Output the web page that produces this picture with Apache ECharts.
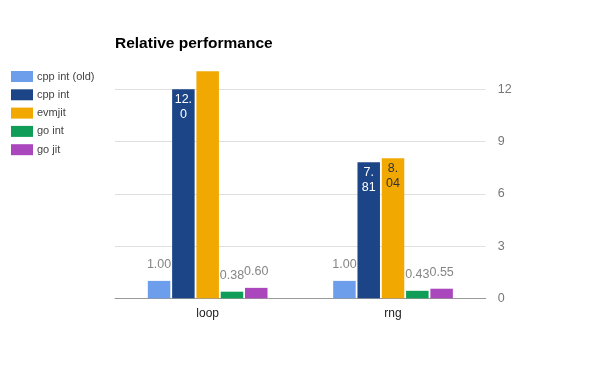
<!DOCTYPE html>
<html><head><meta charset="utf-8">
<script src="https://cdn.jsdelivr.net/npm/echarts@6/dist/echarts.min.js"></script>
<style>html,body{margin:0;padding:0;background:#fff}#c{width:600px;height:371px}</style>
</head><body><div id="c"></div>
<script>
const categories = ['loop', 'rng'];
const seriesNames = ['cpp int (old)', 'cpp int', 'evmjit', 'go int', 'go jit'];
const cppIntOld = [1.00, 1.00];
const cppInt = [12.0, 7.81];
const evmjit = [13.03, 8.04];
const goInt = [0.38, 0.43];
const goJit = [0.60, 0.55];
const yTicks = [0, 3, 6, 9, 12];

const colors = ['#6d9eeb', '#1c4587', '#f1a800', '#109d58', '#ab47bc'];
const insideText = ['#fff', '#fff', '#333', '#fff', '#fff'];
const FONT = 'Liberation Sans, Arial, sans-serif';
const yMax = yTicks[yTicks.length - 1];

function fmt(v) { return v >= 10 ? v.toFixed(1) : v.toFixed(2); }

const allData = [cppIntOld, cppInt, evmjit, goInt, goJit];
const series = allData.map((arr, si) => ({
  name: seriesNames[si],
  type: 'bar',
  clip: false,
  barWidth: 22.5,
  barGap: '8%',
  itemStyle: { color: colors[si] },
  data: arr.map(v => {
    const inside = v > 3;
    return {
      value: v,
      label: {
        show: v <= yMax,
        position: inside ? 'insideTop' : 'top',
        distance: inside ? 3 : 9,
        color: inside ? insideText[si] : '#858585',
        fontSize: 12.5,
        lineHeight: 15,
        fontFamily: FONT,
        formatter: p => {
          const s = fmt(p.value);
          if (!inside) return s;
          const k = s.indexOf('.') + 1;
          return s.slice(0, k) + '\n' + s.slice(k);
        }
      }
    };
  })
}));

const chart = echarts.init(document.getElementById('c'), null, { renderer: 'canvas' });
chart.setOption({
  animation: false,
  backgroundColor: '#fff',
  title: {
    text: 'Relative performance',
    left: 110, top: 31,
    textStyle: { fontFamily: FONT, fontSize: 15.5, fontWeight: 'bold', color: '#000' }
  },
  legend: {
    orient: 'vertical',
    left: 6, top: 66,
    itemWidth: 22, itemHeight: 11,
    itemGap: 7.3,
    icon: 'rect',
    textStyle: { fontFamily: FONT, fontSize: 11, color: '#444', padding: [0, 0, 0, -1] },
    data: seriesNames
  },
  grid: { left: 115, right: 114.3, top: 89.3, bottom: 72.7 },
  xAxis: {
    type: 'category',
    data: categories,
    axisTick: { show: false },
    axisLine: { lineStyle: { color: '#999', width: 1 } },
    axisLabel: { fontFamily: FONT, fontSize: 12, color: '#222', margin: 9 }
  },
  yAxis: {
    type: 'value',
    position: 'right',
    min: 0, max: yMax, interval: 3,
    axisLine: { show: false },
    axisTick: { show: false },
    splitLine: { lineStyle: { color: '#e0e0e0' } },
    axisLabel: { fontFamily: FONT, fontSize: 12.5, color: '#777', margin: 12 }
  },
  series: series
});
</script></body></html>
